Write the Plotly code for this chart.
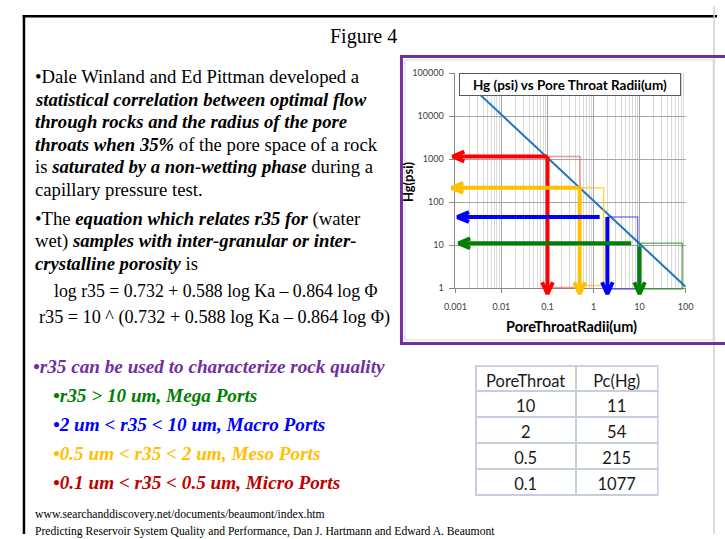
import plotly.graph_objects as go

W, H = 725, 539

# ---------------- data ----------------
pore_throat = [10, 2, 0.5, 0.1]          # um (table column 1)
pc_hg = [11, 54, 215, 1077]              # psi (table column 2)
table_header = ["PoreThroat", "Pc(Hg)"]

# fitted Hg pressure vs pore-throat radius curve
curve_radius = [0.002, 0.01, 0.1, 1, 10, 100]
curve_pc = [54000, 10800, 1077, 108, 10.8, 1.08]

x_tick_vals = [0.001, 0.01, 0.1, 1, 10, 100]
x_tick_text = ["0.001", "0.01", "0.1", "1", "10", "100"]
y_tick_vals = [1, 10, 100, 1000, 10000, 100000]
y_tick_text = ["1", "10", "100", "1000", "10000", "100000"]

# reading arrows, ordered micro, meso, macro, mega
arrow_radius = [0.1, 0.5, 2, 10]
arrow_level = [1150, 215, 45, 11]
arrow_vert_top = [1150, 215, 45, 9.3]
arrow_h_from = [0.1, 0.5, 1.36, 6.6]
arrow_h_tip = [0.00087, 0.00083, 0.0011, 0.00117]
arrow_v_tip = 0.73
box_right = [0.51, 1.66, 9.1, 85]
box_bottom = [1.04, 1.15, 0.96, 0.96]

# ---------------- styles ----------------
arrow_colors = ["#FF0000", "#FFC000", "#0000FF", "#008000"]
box_colors = ["rgba(255,60,60,0.55)", "rgba(255,192,0,0.7)",
              "rgba(40,40,255,0.6)", "rgba(20,140,20,0.6)"]
SERIF = "Liberation Serif"
SANS = "Lato"

PX0, PX1 = 456.0, 692.7     # plot area left/right (px)
PY0, PY1 = 68.5, 288.0      # plot area top/bottom (px)
xr, yr = [-3, 2], [0, 5]
xd = [PX0 / W, PX1 / W]
yd = [1 - PY1 / H, 1 - PY0 / H]
dpx = (xr[1] - xr[0]) / (PX1 - PX0)
dpy = (yr[1] - yr[0]) / (PY1 - PY0)
pad = 25
xd2 = [(PX0 - pad) / W, (PX1 + pad) / W]
yd2 = [1 - (PY1 + pad) / H, 1 - (PY0 - pad) / H]
xr2 = [xr[0] - pad * dpx, xr[1] + pad * dpx]
yr2 = [yr[0] - pad * dpy, yr[1] + pad * dpy]

hx, hy = 10 ** (12 * dpx), 10 ** (5 * dpy)
vx, vy = 10 ** (5.5 * dpx), 10 ** (12 * dpy)

fig = go.Figure()

fig.add_trace(go.Scatter(x=curve_radius, y=curve_pc, mode="lines",
                         line=dict(color="#1F74C2", width=2),
                         xaxis="x", yaxis="y", hoverinfo="skip", showlegend=False))

for i in range(4):
    r = arrow_radius[i]
    top = arrow_level[i]
    fig.add_trace(go.Scatter(
        x=[r, box_right[i], box_right[i], r, r],
        y=[top, top, box_bottom[i], box_bottom[i], top],
        mode="lines", line=dict(color=box_colors[i], width=1.5),
        xaxis="x2", yaxis="y2", hoverinfo="skip", showlegend=False))

for i in range(4):
    c = arrow_colors[i]
    lvl = arrow_level[i]
    tip = arrow_h_tip[i]
    fig.add_trace(go.Scatter(
        x=[arrow_h_from[i], tip * 1.05, None, tip * hx, tip, tip * hx],
        y=[lvl, lvl, None, lvl * hy, lvl, lvl / hy],
        mode="lines", line=dict(color=c, width=4),
        xaxis="x2", yaxis="y2", hoverinfo="skip", showlegend=False))
    r = arrow_radius[i]
    fig.add_trace(go.Scatter(
        x=[r, r, None, r / vx, r, r * vx],
        y=[arrow_vert_top[i], arrow_v_tip * 1.05, None, arrow_v_tip * vy, arrow_v_tip, arrow_v_tip * vy],
        mode="lines", line=dict(color=c, width=4),
        xaxis="x2", yaxis="y2", hoverinfo="skip", showlegend=False))

fig.add_trace(go.Table(
    domain=dict(x=[476.7 / W, 664 / W], y=[1 - 503 / H, 1 - 367.7 / H]),
    columnwidth=[103, 84],
    header=dict(values=table_header, height=25, align="center",
                font=dict(family=SANS, size=16.5, color="#1a1a1a"),
                line=dict(color="#C5CEDD", width=2), fill=dict(color="white")),
    cells=dict(values=[[str(v) for v in pore_throat], [str(v) for v in pc_hg]],
               height=26, align="center",
               font=dict(family=SANS, size=16.5, color="#1a1a1a"),
               line=dict(color="#C5CEDD", width=2), fill=dict(color="white")),
))

minor_vals = [m * 10 ** e for e in range(-3, 2) for m in range(2, 10)]
tickfont = dict(family=SANS, size=9, color="#404040")

fig.update_layout(
    width=W, height=H, margin=dict(l=0, r=0, t=0, b=0),
    paper_bgcolor="white", plot_bgcolor="rgba(0,0,0,0)",
    showlegend=False,
    xaxis=dict(type="log", range=xr, domain=xd, anchor="y",
               tickvals=x_tick_vals, ticktext=x_tick_text, tickfont=tickfont,
               showgrid=True, gridcolor="#A6A6A6", gridwidth=1,
               minor=dict(tickvals=minor_vals, showgrid=True, gridcolor="#D9D9D9", ticks=""),
               showline=True, linecolor="#868686", ticks="outside", ticklen=4,
               tickcolor="#868686", zeroline=False, fixedrange=True,
               ticklabelstandoff=6),
    yaxis=dict(type="log", range=yr, domain=yd, anchor="x",
               tickvals=y_tick_vals, ticktext=y_tick_text, tickfont=tickfont,
               showgrid=True, gridcolor="#A6A6A6", gridwidth=1,
               showline=True, linecolor="#868686", ticks="outside", ticklen=5,
               tickcolor="#868686", zeroline=False, fixedrange=True,
               ticklabelstandoff=4),
    xaxis2=dict(type="log", range=xr2, domain=xd2, anchor="y2", visible=False, fixedrange=True),
    yaxis2=dict(type="log", range=yr2, domain=yd2, anchor="x2", visible=False, fixedrange=True),
)

def P(x, y):
    return x / W, 1 - y / H

shapes = []
# slide frame
shapes.append(dict(type="line", xref="paper", yref="paper", x0=11 / W, x1=1, y0=1 - 10.5 / H, y1=1 - 10.5 / H,
                   line=dict(color="black", width=2.5)))
shapes.append(dict(type="line", xref="paper", yref="paper", x0=12.3 / W, x1=12.3 / W, y0=0, y1=1 - 9.5 / H,
                   line=dict(color="black", width=2.5)))
shapes.append(dict(type="line", xref="paper", yref="paper", x0=722 / W, x1=722 / W, y0=0, y1=1,
                   line=dict(color="#D0D0D0", width=1.5)))
# chart area borders
shapes.append(dict(type="rect", xref="paper", yref="paper", x0=404 / W, x1=721 / W, y0=1 - 341 / H, y1=1 - 55 / H,
                   line=dict(color="#D9D9D9", width=1)))
shapes.append(dict(type="rect", xref="paper", yref="paper", x0=400.5 / W, x1=1.05, y0=1 - 344.5 / H, y1=1 - 51.5 / H,
                   line=dict(color="#7030A0", width=3)))
fig.update_layout(shapes=shapes)

ann = []

def T(x, y, text, size, color="black", family=SERIF, xanchor="left", **kw):
    px, py = P(x, y)
    ann.append(dict(x=px, y=py, xref="paper", yref="paper", text=text, showarrow=False,
                    xanchor=xanchor, yanchor="middle", font=dict(family=family, size=size, color=color), **kw))

T(361, 31, "Figure 4", 20, xanchor="center")

S = 18.7
para = [
    (72, "•Dale Winland and Ed Pittman developed a"),
    (95, "<b><i>statistical correlation between optimal flow</i></b>"),
    (118, "<b><i>through rocks and the radius of the pore</i></b>"),
    (141, "<b><i>throats when 35%</i></b> of the pore space of a rock"),
    (164, "is <b><i>saturated by a non-wetting phase</i></b> during a"),
    (187, "capillary pressure test."),
    (217, "•The <b><i>equation which relates r35 for</i></b> (water"),
    (240, "wet) <b><i>samples with inter-granular or inter-</i></b>"),
    (263, "<b><i>crystalline porosity</i></b> is"),
]
for y, t in para:
    T(22, y, t, S)
T(209, 291, "log r35 = 0.732 + 0.588 log Ka – 0.864 log Φ", 17.8, xanchor="center")
T(208, 318, "r35 = 10 ^ (0.732 + 0.588 log Ka – 0.864 log Φ)", 18.2, xanchor="center")

LS = 19.2
T(20, 368, "<b><i>•r35 can be used to characterize rock quality</i></b>", LS, color="#7030A0")
T(40, 398, "<b><i>•r35 > 10 um, Mega Ports</i></b>", LS, color="#008000")
T(40, 427, "<b><i>•2 um < r35 < 10 um, Macro Ports</i></b>", LS, color="#0000FF")
T(40, 457, "<b><i>•0.5 um < r35 < 2 um, Meso Ports</i></b>", LS, color="#FFC000")
T(40, 486, "<b><i>•0.1 um < r35 < 0.5 um, Micro Ports</i></b>", LS, color="#C00000")

T(22, 519, "www.searchanddiscovery.net/documents/beaumont/index.htm", 11.7)
T(22, 536, "Predicting Reservoir System Quality and Performance, Dan J. Hartmann and Edward A. Beaumont", 11.6)

# chart texts
T(574, 80.5, "<b>Hg (psi) vs Pore Throat Radii(um)</b>", 13.5, color="black", family=SANS,
  xanchor="center", bgcolor="white", bordercolor="#595959", borderwidth=1, width=218, height=19)
px, py = P(408, 179)
ann.append(dict(x=px, y=py, xref="paper", yref="paper", text="<b>Hg(psi)</b>", showarrow=False,
                textangle=-90, xanchor="center", yanchor="middle",
                font=dict(family=SANS, size=13, color="black")))
T(575, 327, "<b>PoreThroatRadii(um)</b>", 14.5, family=SANS, xanchor="center")

fig.update_layout(annotations=ann)
fig.write_html("out.html")
